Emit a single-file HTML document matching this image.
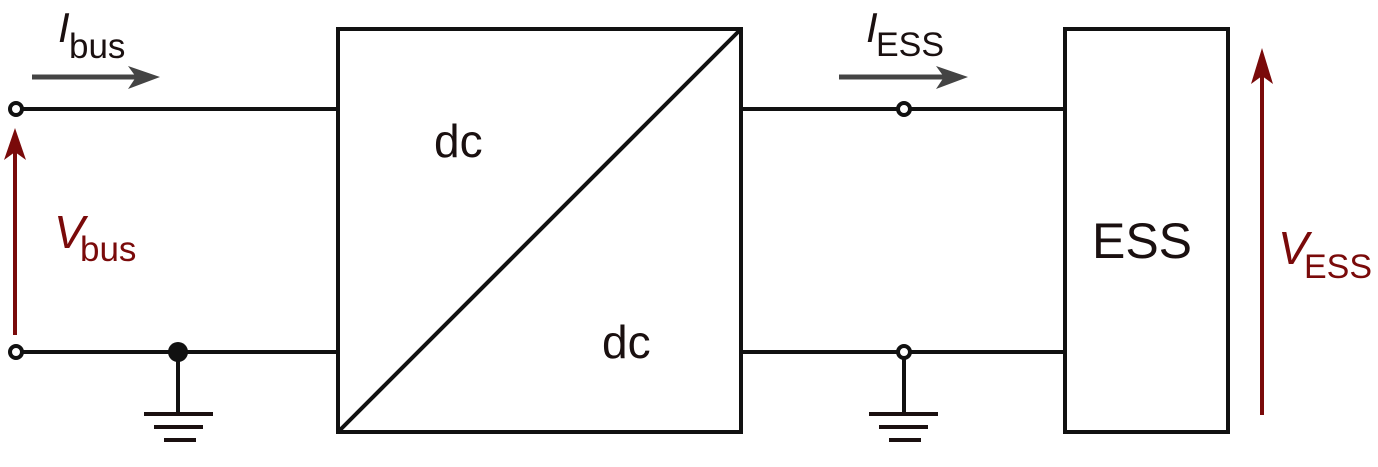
<!DOCTYPE html>
<html><head><meta charset="utf-8"><style>html,body{margin:0;padding:0;background:#fff}</style></head>
<body>
<svg width="1378" height="462" viewBox="0 0 1378 462" xmlns="http://www.w3.org/2000/svg" font-family="Liberation Sans, Arial, sans-serif">
<g stroke="#111" stroke-width="4" fill="none">
<rect x="338" y="29" width="403" height="403"/>
<line x1="741" y1="29" x2="338" y2="432"/>
<rect x="1065" y="29" width="163" height="403"/>
<line x1="22" y1="109" x2="338" y2="109"/>
<line x1="22" y1="352" x2="338" y2="352"/>
<line x1="741" y1="109" x2="898" y2="109"/>
<line x1="910" y1="109" x2="1065" y2="109"/>
<line x1="741" y1="352" x2="898" y2="352"/>
<line x1="910" y1="352" x2="1065" y2="352"/>
<line x1="178" y1="352" x2="178" y2="414"/>
<line x1="904" y1="358" x2="904" y2="414"/>
<circle cx="16" cy="109" r="6"/>
<circle cx="16" cy="352" r="6"/>
<circle cx="904" cy="109" r="6"/>
<circle cx="904" cy="352" r="6"/>
</g>
<circle cx="178" cy="352" r="10" fill="#111"/>
<g fill="#1a1010">
<rect x="144" y="412" width="69" height="4"/><rect x="154" y="425" width="49" height="4"/><rect x="164" y="438" width="32" height="4"/>
<rect x="869" y="412" width="69" height="4"/><rect x="879" y="425" width="49" height="4"/><rect x="889" y="438" width="32" height="4"/>
</g>
<g stroke="#444" stroke-width="5"><line x1="32" y1="77" x2="140" y2="77"/><line x1="839" y1="77" x2="945" y2="77"/></g>
<g fill="#444"><polygon points="160,77 128,66 136,77 128,89"/><polygon points="968,77 936,66 944,77 936,89"/></g>
<g stroke="#7a0a0a" stroke-width="4"><line x1="15" y1="335" x2="15" y2="148"/><line x1="1262" y1="415" x2="1262" y2="70"/></g>
<g fill="#7a0a0a"><polygon points="15,128 4,160 15,152 26,160"/><polygon points="1262,48 1251,84 1262,76 1273,84"/></g>
<g fill="#1a1010">
<text x="434" y="157" font-size="46">dc</text>
<text x="602" y="358" font-size="46">dc</text>
<text x="1142" y="258" font-size="50" text-anchor="middle">ESS</text>
<text x="58" y="42" font-size="42" font-style="italic">I</text><text x="69" y="58" font-size="35">bus</text>
<text x="866" y="42" font-size="42" font-style="italic">I</text><text x="876" y="56" font-size="34">ESS</text>
</g>
<g fill="#7a0a0a">
<text x="54" y="248" font-size="46" font-style="italic">V</text><text x="80" y="261" font-size="35">bus</text>
<text x="1278" y="264" font-size="46" font-style="italic">V</text><text x="1304" y="278" font-size="34">ESS</text>
</g>
</svg>
</body></html>
